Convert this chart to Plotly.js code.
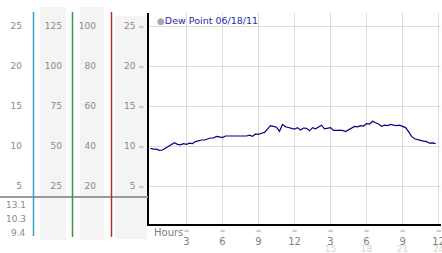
<!DOCTYPE html>
<html><head><meta charset="utf-8">
<script src="https://cdn.plot.ly/plotly-3.0.1.min.js"></script>
<style>html,body{margin:0;padding:0;background:#fff}#c{width:442px;height:253px}</style>
</head><body><div id="c"></div>
<script>
const hours = [0,0.25,0.5,0.75,1,1.25,1.5,1.75,2,2.25,2.5,2.75,3,3.25,3.5,3.75,4,4.25,4.5,4.75,5,5.25,5.5,5.75,6,6.25,6.5,6.75,7,7.25,7.5,7.75,8,8.25,8.5,8.75,9,9.25,9.5,9.75,10,10.25,10.5,10.75,11,11.25,11.5,11.75,12,12.25,12.5,12.75,13,13.25,13.5,13.75,14,14.25,14.5,14.75,15,15.25,15.5,15.75,16,16.25,16.5,16.75,17,17.25,17.5,17.75,18,18.25,18.5,18.75,19,19.25,19.5,19.75,20,20.25,20.5,20.75,21,21.25,21.5,21.75,22,22.25,22.5,22.75,23,23.25,23.5,23.75];
const dewPoint = [9.7,9.6,9.6,9.45,9.5,9.7,9.9,10.2,10.4,10.2,10.15,10.3,10.2,10.35,10.3,10.55,10.7,10.75,10.75,10.85,11.0,11.0,11.2,11.15,11.05,11.25,11.25,11.25,11.25,11.25,11.25,11.25,11.25,11.35,11.2,11.5,11.45,11.6,11.7,12.1,12.55,12.45,12.35,11.85,12.7,12.4,12.3,12.25,12.1,12.3,12.0,12.25,12.2,11.9,12.3,12.15,12.35,12.6,12.15,12.2,12.3,11.95,11.95,12.0,11.95,11.8,12.0,12.3,12.45,12.4,12.55,12.5,12.8,12.75,13.1,12.9,12.75,12.45,12.6,12.55,12.7,12.6,12.55,12.6,12.4,12.3,11.8,11.2,10.9,10.75,10.7,10.6,10.55,10.35,10.4,10.3];
const seriesName = 'Dew Point 06/18/11';
const xTickVals = [3,6,9,12,15,18,21,24];
const xTickText = ['3','6','9','12','3','6','9','12'];
const xTick24Vals = [15,18,21,24];
const xTick24Text = ['15','18','21','24'];
const yTicks = [5,10,15,20,25];
const col2Ticks = [25,50,75,100,125];
const col3Ticks = [20,40,60,80,100];
const statLabels = ['13.1','10.3','9.4'];

const W = 441;
const PH = 211, PB = 224; // plot height, plot bottom pixel
const py = p => (PB - p) / PH;
const px = p => p / W;
const yr = [0.25, 26.625];
const xr = [-0.12, 24.2];
const F = 'DejaVu Sans';
const mark = "<span style='font-size:7px;color:#b0b0b0'>≈</span>";

const traces = [
  {x: hours, y: dewPoint, type: 'scatter', mode: 'lines', name: seriesName,
   line: {color: '#000080', width: 1.2}, showlegend: false, hoverinfo: 'skip'},
  {x: [null], y: [null], xaxis: 'x2', yaxis: 'y', showlegend: false, hoverinfo: 'skip'},
  {x: [null], y: [null], xaxis: 'x3', yaxis: 'y', showlegend: false, hoverinfo: 'skip'},
  {x: [null], y: [null], xaxis: 'x', yaxis: 'y2', showlegend: false, hoverinfo: 'skip'},
  {x: [null], y: [null], xaxis: 'x', yaxis: 'y3', showlegend: false, hoverinfo: 'skip'},
  {x: [null], y: [null], xaxis: 'x', yaxis: 'y4', showlegend: false, hoverinfo: 'skip'}
];

const freeY = (pos, range, ticks) => ({
  overlaying: 'y', anchor: 'free', position: pos, side: 'left', range: range,
  showgrid: false, showline: false, zeroline: false, ticks: '',
  tickvals: ticks, ticktext: ticks.map(String), ticklabelstandoff: 0,
  tickfont: {family: F, size: 9, color: '#8a8a8a'}, fixedrange: true
});

const layout = {
  width: 442, height: 253,
  margin: {l: 0, r: 1, t: 13, b: 29, pad: 0},
  paper_bgcolor: '#fff', plot_bgcolor: '#fff',
  showlegend: false,
  font: {family: F, size: 9, color: '#888'},
  xaxis: {domain: [px(149), 1], range: xr, showline: true, linecolor: '#000', linewidth: 2,
    showgrid: true, gridcolor: '#dcdcdc', gridwidth: 1, zeroline: false, ticks: '',
    tickvals: xTickVals, ticktext: xTickText, ticklabelstandoff: 7, ticklabeloverflow: 'allow',
    tickfont: {family: F, size: 10, color: '#808080'}},
  xaxis2: {overlaying: 'x', anchor: 'y', side: 'bottom', range: xr, showgrid: false, showline: false,
    zeroline: false, ticks: '', tickvals: xTick24Vals, ticktext: xTick24Text, ticklabelstandoff: 18,
    ticklabeloverflow: 'allow', tickfont: {family: F, size: 9, color: '#d4d4d4'}},
  xaxis3: {overlaying: 'x', anchor: 'y', side: 'bottom', range: xr, showgrid: false, showline: false,
    zeroline: false, ticks: '', tickvals: xTickVals, ticktext: xTickVals.map(() => '≈'), ticklabelstandoff: 1,
    ticklabeloverflow: 'allow', tickfont: {family: F, size: 7, color: '#b0b0b0'}},
  yaxis: {domain: [0, 1], range: yr, showline: true, linecolor: '#000', linewidth: 2,
    showgrid: true, gridcolor: '#dcdcdc', gridwidth: 1, zeroline: false, ticks: '',
    tickvals: yTicks, ticktext: yTicks.map(v => v + ' ' + mark), ticklabelstandoff: 1,
    tickfont: {family: F, size: 9, color: '#8a8a8a'}},
  yaxis2: freeY(px(22), yr, yTicks),
  yaxis3: freeY(px(62), [yr[0] * 5, yr[1] * 5], col2Ticks),
  yaxis4: freeY(px(96), [yr[0] * 4, yr[1] * 4], col3Ticks),
  shapes: [
    {type: 'rect', xref: 'paper', yref: 'paper', x0: px(40), x1: px(66), y0: py(240), y1: py(7), fillcolor: '#f4f4f4', line: {width: 0}, layer: 'below'},
    {type: 'rect', xref: 'paper', yref: 'paper', x0: px(80), x1: px(104), y0: py(240), y1: py(7), fillcolor: '#f4f4f4', line: {width: 0}, layer: 'below'},
    {type: 'rect', xref: 'paper', yref: 'paper', x0: px(115), x1: px(147), y0: py(239), y1: py(16), fillcolor: '#f4f4f4', line: {width: 0}, layer: 'below'},
    {type: 'line', xref: 'paper', yref: 'paper', x0: px(0), x1: px(148), y0: py(197), y1: py(197), line: {color: '#9a9a9a', width: 2}},
    {type: 'line', xref: 'paper', yref: 'paper', x0: px(33.5), x1: px(33.5), y0: py(236), y1: py(12), line: {color: '#3aa0c8', width: 1.5}},
    {type: 'line', xref: 'paper', yref: 'paper', x0: px(72.5), x1: px(72.5), y0: py(237), y1: py(12), line: {color: '#3a9a3a', width: 1.5}},
    {type: 'line', xref: 'paper', yref: 'paper', x0: px(111.5), x1: px(111.5), y0: py(237), y1: py(12), line: {color: '#a83232', width: 1.5}}
  ],
  annotations: [
    {xref: 'paper', yref: 'paper', x: px(155), y: py(21), xanchor: 'left', yanchor: 'middle', showarrow: false,
     text: "<span style='color:#a8a8a8;font-size:9px'>●</span>" + seriesName,
     font: {family: F, size: 9.5, color: '#2a2aa8'}},
    {xref: 'paper', yref: 'paper', x: px(152), y: py(232), xanchor: 'left', yanchor: 'middle', showarrow: false,
     text: 'Hours', font: {family: F, size: 10, color: '#808080'}},
    {xref: 'paper', yref: 'paper', x: px(28), y: py(205), xanchor: 'right', yanchor: 'middle', showarrow: false,
     text: statLabels[0], font: {family: F, size: 9, color: '#8a8a8a'}},
    {xref: 'paper', yref: 'paper', x: px(28), y: py(219), xanchor: 'right', yanchor: 'middle', showarrow: false,
     text: statLabels[1], font: {family: F, size: 9, color: '#8a8a8a'}},
    {xref: 'paper', yref: 'paper', x: px(28), y: py(233), xanchor: 'right', yanchor: 'middle', showarrow: false,
     text: statLabels[2], font: {family: F, size: 9, color: '#8a8a8a'}}
  ]
};
Plotly.newPlot('c', traces, layout, {staticPlot: true, displayModeBar: false});
</script></body></html>
